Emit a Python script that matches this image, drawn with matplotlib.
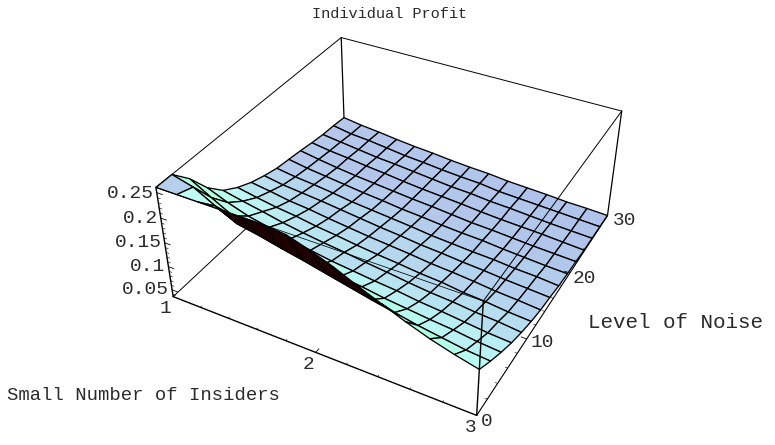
import numpy as np
import matplotlib
matplotlib.use("Agg")
import matplotlib.pyplot as plt
from mpl_toolkits.mplot3d import proj3d

W, H = 775, 445

title = "Individual Profit"
xlabel = "Small Number of Insiders"
ylabel = "Level of Noise"

# sample grid of the surface
insiders = [1, 1.143, 1.286, 1.429, 1.571, 1.714, 1.857, 2, 2.143, 2.286, 2.429, 2.571, 2.714, 2.857, 3]
noise = [0, 2.143, 4.286, 6.429, 8.571, 10.714, 12.857, 15, 17.143, 19.286, 21.429, 23.571, 25.714, 27.857, 30]

# one row per noise level
profit = [
    [.260, .260, .260, .260, .260, .260, .256, .242, .226, .206, .188, .170, .154, .141, .130],
    [.260, .249, .226, .205, .197, .187, .178, .168, .158, .148, .139, .130, .123, .116, .112],
    [.227, .203, .180, .166, .156, .146, .139, .132, .127, .120, .115, .110, .106, .100, .096],
    [.184, .167, .153, .144, .134, .126, .119, .114, .109, .105, .099, .095, .090, .085, .082],
    [.153, .144, .136, .127, .120, .114, .109, .103, .098, .092, .087, .084, .079, .076, .071],
    [.134, .126, .119, .114, .107, .102, .096, .091, .087, .082, .079, .073, .070, .065, .062],
    [.120, .114, .107, .103, .097, .092, .087, .083, .079, .074, .071, .067, .062, .059, .055],
    [.110, .103, .099, .095, .090, .085, .080, .076, .071, .068, .064, .061, .057, .054, .051],
    [.102, .096, .092, .087, .081, .077, .073, .069, .064, .061, .058, .056, .052, .050, .046],
    [.098, .091, .086, .081, .076, .072, .067, .064, .060, .057, .055, .051, .048, .045, .043],
    [.094, .087, .081, .076, .072, .068, .064, .061, .057, .053, .051, .048, .045, .043, .041],
    [.089, .083, .079, .074, .070, .065, .061, .058, .055, .051, .048, .046, .044, .041, .038],
    [.085, .080, .075, .070, .067, .063, .059, .055, .053, .049, .047, .044, .041, .039, .037],
    [.083, .076, .073, .068, .063, .060, .056, .053, .051, .046, .044, .042, .040, .038, .036],
    [.080, .074, .070, .065, .061, .058, .054, .051, .049, .045, .043, .041, .038, .037, .035],
]

xticks = [1, 2, 3]
yticks = [0, 10, 20, 30]
zticks = [0.05, 0.1, 0.15, 0.2, 0.25]
zlabels = ["0.05", "0.1", "0.15", "0.2", "0.25"]
xminor = [1.2, 1.4, 1.6, 1.8, 2.2, 2.4, 2.6, 2.8]
yminor = [2, 4, 6, 8, 12, 14, 16, 18, 22, 24, 26, 28]
zminor = [0.04, 0.06, 0.07, 0.08, 0.09, 0.11, 0.12, 0.13, 0.14, 0.16, 0.17, 0.18, 0.19, 0.21, 0.22, 0.23, 0.24]

XLO, XHI = 1, 3
YLO, YHI = 0, 30
ZLO, ZHI = 0.035, 0.26
ASPECT = (1, 1, 0.4)
# Mathematica's default ViewPoint {1.3, -2.4, 2}
VIEW = np.array([1.3, -2.4, 2.0])
AZIM = np.degrees(np.arctan2(VIEW[1], VIEW[0]))
ELEV = np.degrees(np.arctan2(VIEW[2], np.hypot(VIEW[0], VIEW[1])))
TXT = "#2a2a2a"
MONO = "Liberation Mono"


def face_colors(X, Y, Z):
    """Per-cell colours from how far each face tilts away from the viewer, tuned by eye."""
    sx = ASPECT[0] / (XHI - XLO)
    sy = ASPECT[1] / (YHI - YLO)
    sz = ASPECT[2] / (ZHI - ZLO)
    P = np.stack([(X - (XLO + XHI) / 2) * sx, (Y - (YLO + YHI) / 2) * sy, (Z - (ZLO + ZHI) / 2) * sz], axis=-1)
    d1 = P[1:, 1:] - P[:-1, :-1]
    d2 = P[1:, :-1] - P[:-1, 1:]
    n = np.cross(d2, d1)
    n[n[..., 2] < 0] *= -1
    n /= np.linalg.norm(n, axis=-1, keepdims=True)
    w = VIEW / np.linalg.norm(VIEW)
    u = np.cross([0, 0, 1], w)
    u /= np.linalg.norm(u)
    nu, nw = n @ u, n @ w
    t = np.clip(1 - nw / 0.59, 0, 1)
    cols = np.zeros(n.shape)
    cols[..., 0] = np.interp(t, [0, 0.5, 0.9], [0.68, 0.67, 0.58]) + 0.2 * nu
    cols[..., 1] = np.interp(t, [0, 0.5, 0.9], [0.76, 0.93, 1.0]) + 0.12 * nu
    cols[..., 2] = np.interp(t, [0, 0.5, 0.9], [0.92, 0.96, 0.88])
    # faces turned away from the viewer show their dark underside
    centre = P[:-1, :-1] / 4 + P[1:, :-1] / 4 + P[:-1, 1:] / 4 + P[1:, 1:] / 4
    under = ((VIEW - centre) * n).sum(axis=-1) < 0
    cols[under] = (0.12, 0.0, 0.0)
    return np.clip(cols, 0, 1)


def put_axes(ax, side, cx, cy):
    ax.set_position([(cx - side / 2) / W, (H - cy - side / 2) / H, side / W, side / H])


def seg(ax, a, b, lw=0.75, z=1):
    ax.plot([a[0], b[0]], [a[1], b[1]], [a[2], b[2]], color="k", lw=lw, zorder=z, clip_on=False,
            solid_capstyle="round")


def tick_text(ax, xyz, s, dx, dy):
    # offsets in pixels from the projected tick position
    px, py, _ = proj3d.proj_transform(xyz[0], xyz[1], xyz[2], ax.get_proj())
    ax.annotate(s, (px, py), xytext=(dx * 0.72, dy * 0.72), textcoords="offset points", ha="center", va="center",
                family=MONO, fontsize=14, color=TXT, annotation_clip=False)


def main():
    fig = plt.figure(figsize=(W / 100, H / 100), dpi=100)
    ax = fig.add_subplot(projection="3d", computed_zorder=False)
    ax.set_xlim(XLO, XHI, view_margin=0)
    ax.set_ylim(YLO, YHI, view_margin=0)
    ax.set_zlim(ZLO, ZHI, view_margin=0)
    ax.set_box_aspect(ASPECT)
    ax.view_init(elev=ELEV, azim=AZIM)
    ax.set_proj_type("persp", focal_length=0.44)
    ax.set_axis_off()
    put_axes(ax, 472, 394, 209)

    X, Y = np.meshgrid(insiders, noise)
    Z = np.array(profit)
    surf = ax.plot_surface(X, Y, Z, rstride=1, cstride=1, facecolors=face_colors(X, Y, Z), shade=False,
                           edgecolor="k", linewidth=0.95, antialiased=True, zorder=2)
    surf.set_clip_on(False)

    # box, back edges under the surface and front edges over it
    seg(ax, (XLO, YLO, ZLO), (XLO, YHI, ZLO), 0.7, 1)
    seg(ax, (XLO, YHI, ZLO), (XLO, YHI, ZHI), 0.9, 1)
    seg(ax, (XLO, YHI, ZHI), (XHI, YHI, ZHI), 0.7, 1)
    seg(ax, (XLO, YHI, ZHI), (XLO, YLO, ZHI), 0.7, 1)
    seg(ax, (XHI, YHI, ZLO), (XHI, YHI, ZHI), 0.9, 1)
    seg(ax, (XHI, YLO, ZHI), (XHI, YHI, ZHI), 0.7, 3)
    seg(ax, (XLO, YLO, ZHI), (XHI, YLO, ZHI), 0.55, 3)
    seg(ax, (XHI, YLO, ZLO), (XHI, YLO, ZHI), 1.0, 3)
    # the three labelled axes
    seg(ax, (XLO, YLO, ZLO), (XHI, YLO, ZLO), 1.0, 3)
    seg(ax, (XHI, YLO, ZLO), (XHI, YHI, ZLO), 0.8, 3)
    seg(ax, (XLO, YLO, ZLO), (XLO, YLO, ZHI), 1.0, 3)

    for t in xticks[1:-1]:
        seg(ax, (t, YLO, ZLO), (t, YLO + 0.5, ZLO), 0.6, 3)
    for t in xminor:
        seg(ax, (t, YLO, ZLO), (t, YLO + 0.2, ZLO), 0.4, 3)
    for t in yticks[1:-1]:
        seg(ax, (XHI, t, ZLO), (XHI - 0.035, t, ZLO), 0.6, 3)
    for t in yminor:
        seg(ax, (XHI, t, ZLO), (XHI - 0.015, t, ZLO), 0.4, 3)
    for t in zticks:
        seg(ax, (XLO, YLO, t), (XLO + 0.04, YLO, t), 0.6, 3)
    for t in zminor:
        seg(ax, (XLO, YLO, t), (XLO + 0.02, YLO, t), 0.4, 3)

    for t, dx, dy in zip(xticks, [-8, -7, -6], [-12, -12, -12]):
        tick_text(ax, (t, YLO, ZLO), str(t), dx, dy)
    for t, dx, dy in zip(yticks, [10, 16, 15, 17], [-6, -4, -6, -5]):
        tick_text(ax, (XHI, t, ZLO), str(t), dx, dy)
    for t, s, dy in zip(zticks, zlabels, [0, 0, 0, 0, -1]):
        tick_text(ax, (XLO, YLO, t), s, -len(s) * 5.9 - 3, dy)

    fig.text(390 / W, 1 - 14 / H, title, ha="center", va="center", family=MONO, fontsize=11, color=TXT)
    fig.text(143.5 / W, 1 - 395 / H, xlabel, ha="center", va="center", family=MONO, fontsize=13.6, color=TXT)
    fig.text(675 / W, 1 - 322 / H, ylabel, ha="center", va="center", family=MONO, fontsize=15, color=TXT)

    fig.savefig("out.png", dpi=100)


main()
